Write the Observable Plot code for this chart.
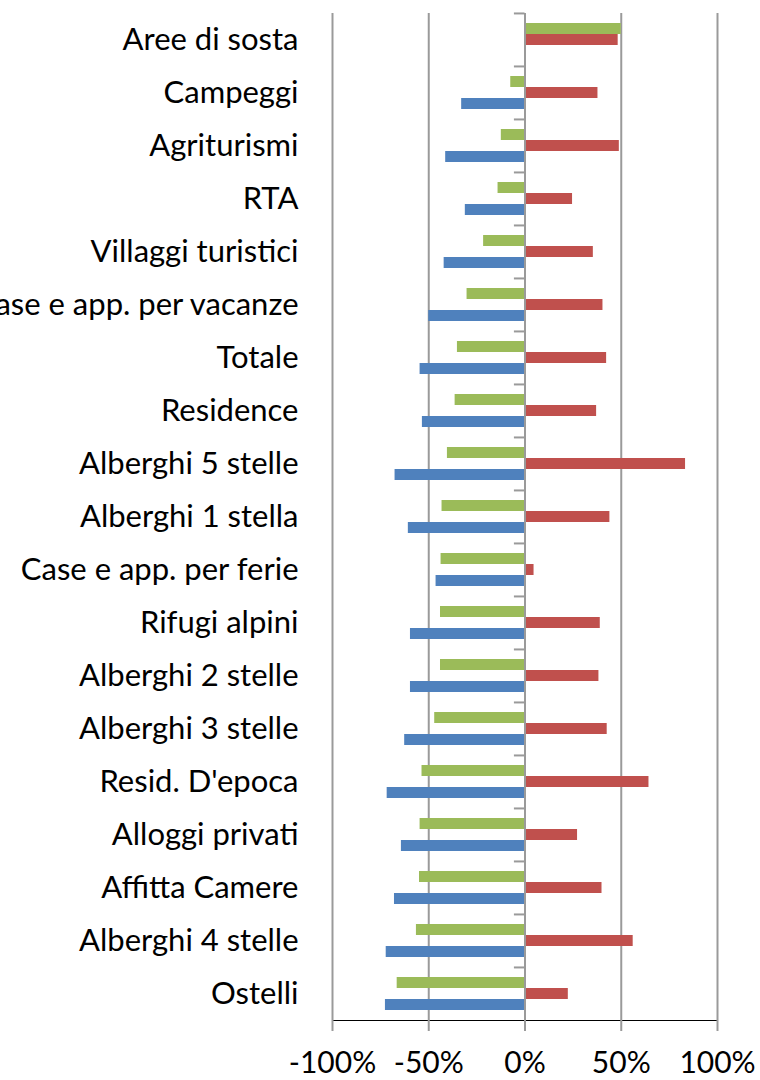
<!DOCTYPE html>
<html><head><meta charset="utf-8">
<script src="https://cdn.jsdelivr.net/npm/d3@7"></script>
<script src="https://cdn.jsdelivr.net/npm/@observablehq/plot@0.6"></script>
<style>html,body{margin:0;padding:0;background:#fff} svg{overflow:hidden;display:block}</style>
</head><body><div id="chart"></div>
<script>
const categories = ["Aree di sosta","Campeggi","Agriturismi","RTA","Villaggi turistici","Case e app. per vacanze","Totale","Residence","Alberghi 5 stelle","Alberghi 1 stella","Case e app. per ferie","Rifugi alpini","Alberghi 2 stelle","Alberghi 3 stelle","Resid. D'epoca","Alloggi privati","Affitta Camere","Alberghi 4 stelle","Ostelli"];
const seriesKeys = ["Serie verde","Serie rossa","Serie blu"];
const seriesColors = ["#9BBB59","#C0504D","#4F81BD"];
const green = [50,-7.4,-12.3,-14,-21.5,-30.1,-35.1,-36.3,-40.3,-43.1,-43.6,-43.9,-43.9,-46.9,-53.5,-54.5,-54.8,-56.4,-66.4];
const red = [48.4,37.9,49,24.7,35.5,40.5,42.4,37.2,83.4,44.1,4.7,39.1,38.4,42.7,64.4,27.3,40,56.2,22.5];
const blue = [0.7,-32.9,-41.2,-31,-42,-50,-54.5,-53.3,-67.5,-60.6,-46.2,-59.5,-59.5,-62.5,-71.6,-64.2,-67.8,-72.1,-72.5];
const xTicks = [-100,-50,0,50,100];

const rows = categories.flatMap((c,i)=>[
  {cat:c, s:seriesKeys[0], v:green[i]},
  {cat:c, s:seriesKeys[1], v:red[i]},
  {cat:c, s:seriesKeys[2], v:blue[i]}
]);

const W=760, H=1080, mT=12, mB=59, mL=332, mR=43;
const bandH = (H - mT - mB)/categories.length;
const gray = "#9a9a9a";

const chart = Plot.plot({
  width: W, height: H,
  marginTop: mT, marginBottom: mB, marginLeft: mL, marginRight: mR,
  style: {fontFamily: "Lato, sans-serif", fontSize: "31px", color: "#000", background: "#fff"},
  x: {domain: [-100,100], ticks: xTicks, tickFormat: d => d + "%", tickSize: 11, tickPadding: 20, line: true, label: null},
  y: {domain: seriesKeys, paddingInner: 0, paddingOuter: 0.77, axis: null},
  fy: {domain: categories, padding: 0, label: null, tickSize: 0, tickPadding: 34},
  color: {domain: seriesKeys, range: seriesColors},
  marks: [
    Plot.ruleX(xTicks.filter(d => d !== 0), {stroke: gray, strokeWidth: 2}),
    Plot.barX(rows, {x: "v", y: "s", fy: "cat", fill: "s"}),
    Plot.ruleY(categories, {fy: d => d, y: null, x1: -5.5, x2: 0, stroke: gray, strokeWidth: 2, dy: -bandH/2}),
    Plot.ruleX([0], {stroke: gray, strokeWidth: 2})
  ]
});
chart.querySelectorAll('[aria-label="x-axis"] path, [aria-label="x-axis tick"] path, [aria-label="x-axis line"]').forEach(e=>{e.setAttribute("stroke",gray);e.setAttribute("stroke-width",2);});
chart.querySelectorAll('[aria-label="x-axis"] text, [aria-label="x-axis tick label"] text, [aria-label="x-axis tick label"]').forEach(e=>{e.setAttribute("font-size","30px");});
document.getElementById("chart").appendChild(chart);
</script>
</body></html>
